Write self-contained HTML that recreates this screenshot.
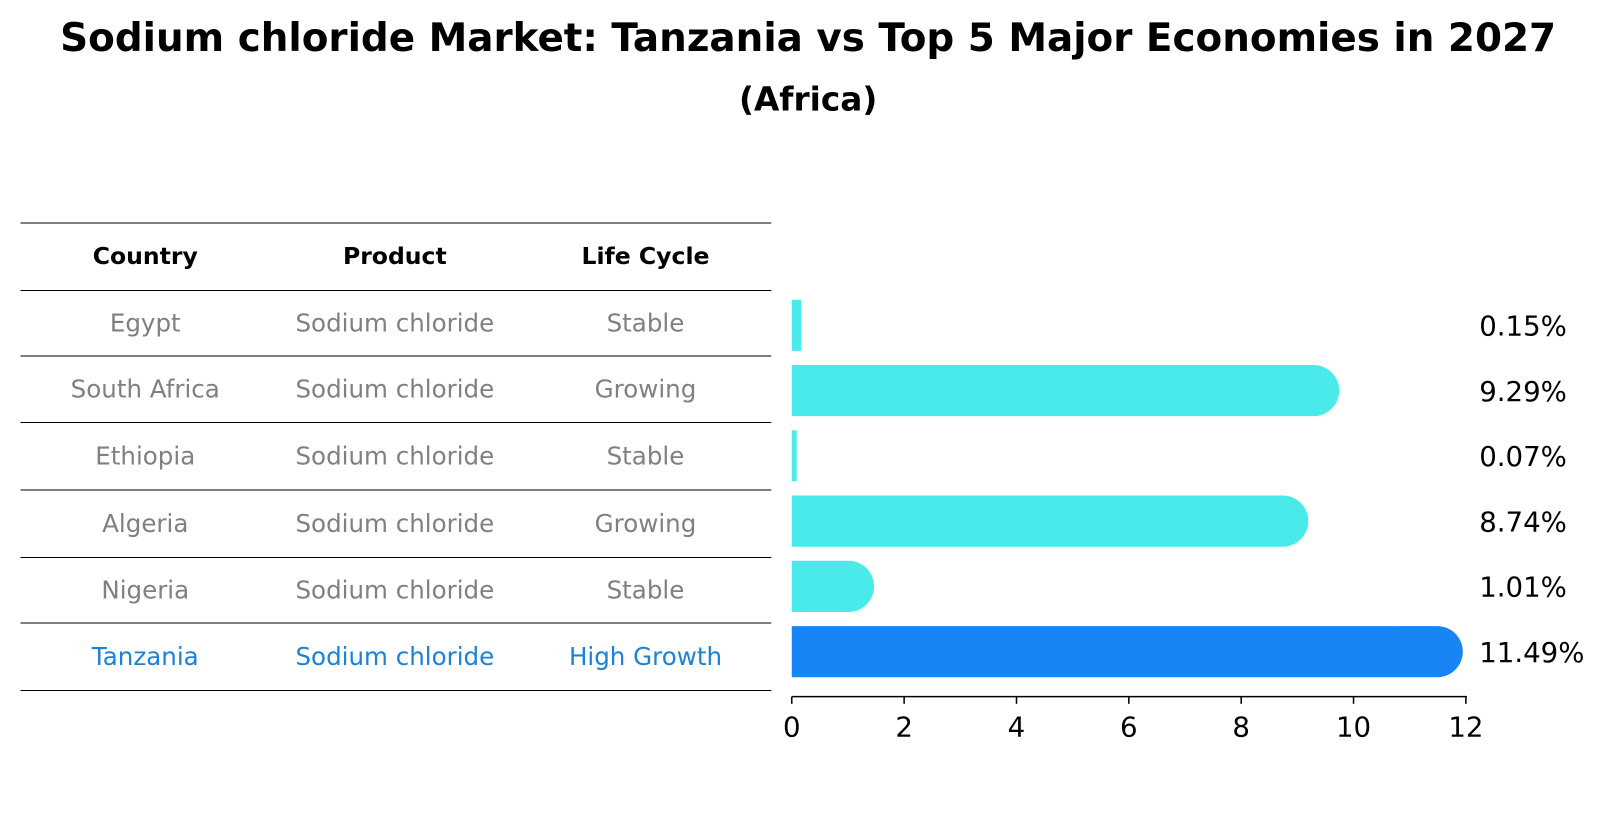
<!DOCTYPE html>
<html><head><meta charset="utf-8"><style>
body{margin:0;background:#fff;font-family:"Liberation Sans","DejaVu Sans",sans-serif}
svg text{font-family:"DejaVu Sans","Liberation Sans",sans-serif}
</style></head><body>
<svg width="1604" height="823" viewBox="0 0 1568 804.5" preserveAspectRatio="none" xmlns="http://www.w3.org/2000/svg">
<text x="790" y="50" text-anchor="middle" font-size="38" font-weight="bold">Sodium chloride Market: Tanzania vs Top 5 Major Economies in 2027</text>
<text x="790" y="108" text-anchor="middle" font-size="32" font-weight="bold">(Africa)</text>
<g id="table"></g>
<g id="bars"></g>
</svg>
<script>
const countries=["Egypt","South Africa","Ethiopia","Algeria","Nigeria","Tanzania"];
const products=["Sodium chloride","Sodium chloride","Sodium chloride","Sodium chloride","Sodium chloride","Sodium chloride"];
const lifecycle=["Stable","Growing","Stable","Growing","Stable","High Growth"];
const values=[0.15,9.29,0.07,8.74,1.01,11.49];
const ticks=[0,2,4,6,8,10,12];
const NS="http://www.w3.org/2000/svg";
function mk(t,a,p){const e=document.createElementNS(NS,t);for(const k in a)e.setAttribute(k,a[k]);p.appendChild(e);return e;}
const tbl=document.getElementById('table'),bars=document.getElementById('bars');
const lines=[218,284,348,413,479,545,609,675];
lines.forEach((y,i)=>{const l=mk('line',{x1:20,x2:754,y1:y,y2:y,stroke:'#000','stroke-width':1},tbl);

});
const cols=[142,386,631];
["Country","Product","Life Cycle"].forEach((h,i)=>{const t=mk('text',{x:cols[i],y:258,'text-anchor':'middle','font-size':23,'font-weight':'bold'},tbl);t.textContent=h;

});
countries.forEach((c,r)=>{const y=(lines[r+1]+lines[r+2])/2+8;const col=c==="Tanzania"?"#1a82d8":"#808080";
[c,products[r],lifecycle[r]].forEach((v,i)=>{const t=mk('text',{x:cols[i],y:y,'text-anchor':'middle','font-size':24,fill:col},tbl);t.textContent=v;

});});
const x0=774,x1=1433,xmax=12;const xs=v=>x0+(x1-x0)*v/xmax;
const barTop=v=>293+v*63.8;const bh=50;
values.forEach((v,i)=>{const y=barTop(i);const xe=xs(v);const col=countries[i]==="Tanzania"?"#1884f5":"#4beaea";
let d;const r=bh/2;
if(v>0.5)d=`M${x0},${y}H${xe}A${r},${r} 0 0 1 ${xe},${y+bh}H${x0}Z`;else d=`M${x0},${y}H${Math.max(xe,x0+2)+1}V${y+bh}H${x0}Z`;
const p=mk('path',{d:d,fill:col},bars);


const t=mk('text',{x:1446,y:y+bh/2+10,'font-size':27},bars);t.textContent=v.toFixed(2)+'%';

});
const ax=mk('line',{x1:x0,x2:x1+1,y1:681,y2:681,stroke:'#000','stroke-width':1.5},bars);


ticks.forEach(v=>{const tk=mk('line',{x1:xs(v),x2:xs(v),y1:681,y2:688,stroke:'#000','stroke-width':1.5},bars);


const t=mk('text',{x:xs(v),y:720,'text-anchor':'middle','font-size':27},bars);t.textContent=v;

});
</script>
</body></html>
